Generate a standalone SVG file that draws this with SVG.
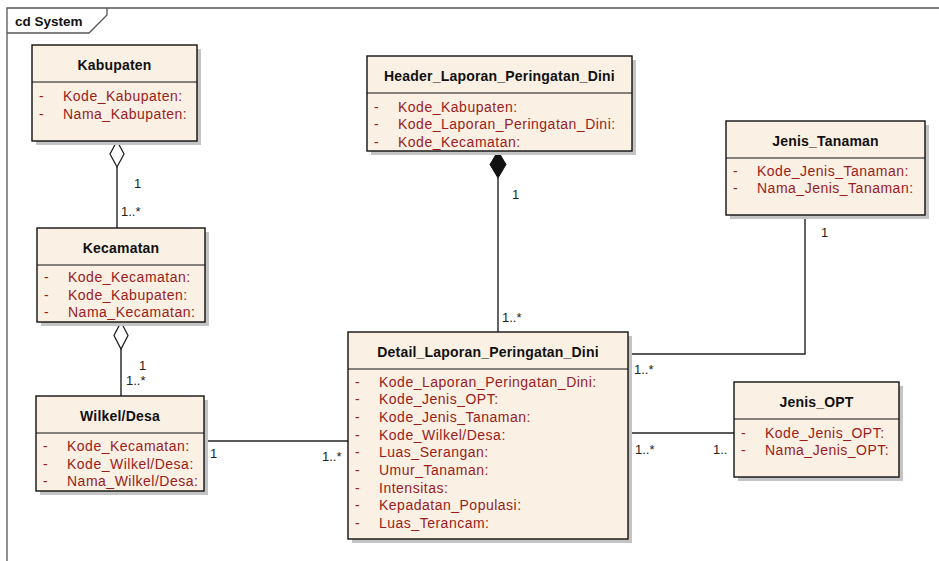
<svg xmlns="http://www.w3.org/2000/svg" width="939" height="561" viewBox="0 0 939 561">
<style>
.frame{fill:none;stroke:#555;stroke-width:1.3}
.shadow{fill:#c4c4c4}
.box{fill:#faf0e3;stroke:#111;stroke-width:1.4}
.div{stroke:#111;stroke-width:1.2}
.title{font-family:"Liberation Sans",Arial,sans-serif;font-size:14px;font-weight:bold;fill:#111;text-anchor:middle;letter-spacing:0.2px}
.attr{font-family:"Liberation Sans",Arial,sans-serif;font-size:14px;fill:#9b1c1c;letter-spacing:0.5px}
.lbl{font-family:"Liberation Sans",Arial,sans-serif;font-size:13px;fill:#222}
.conn{fill:none;stroke:#222;stroke-width:1.4}
</style>
<rect width="939" height="561" fill="#fff"/>
<g id="frame">
<path class="frame" d="M7,561 V8 H939"/>
<path class="frame" d="M7,33 H89 L107,15 V8"/>
<text x="15" y="26" style="font-family:'Liberation Sans',Arial,sans-serif;font-size:13.5px;font-weight:bold;fill:#111">cd System</text>
</g>
<g id="connectors">
<path class="conn" d="M117,167 V228"/>
<polygon points="117,141 124,154 117,167 110,154" fill="#fff" stroke="#222" stroke-width="1.3"/>
<path class="conn" d="M121,349 V396"/>
<polygon points="121,322 128,335.5 121,349 114,335.5" fill="#fff" stroke="#222" stroke-width="1.3"/>
<path class="conn" d="M498,178 V332"/>
<polygon points="498,151 506,164.5 498,178 490,164.5" fill="#111" stroke="#111" stroke-width="1"/>
<path class="conn" d="M204,441 H348"/>
<path class="conn" d="M805,215 V354 H628"/>
<path class="conn" d="M628,433 H734"/>
<text class="lbl" x="134" y="188">1</text>
<text class="lbl" x="121" y="216">1..*</text>
<text class="lbl" x="139" y="370">1</text>
<text class="lbl" x="126" y="385">1..*</text>
<text class="lbl" x="512" y="199">1</text>
<text class="lbl" x="502" y="322">1..*</text>
<text class="lbl" x="210" y="458">1</text>
<text class="lbl" x="322" y="461">1..*</text>
<text class="lbl" x="821" y="237">1</text>
<text class="lbl" x="634" y="374">1..*</text>
<text class="lbl" x="635" y="454">1..*</text>
<text class="lbl" x="713" y="454">1..</text>
</g>
<g id="Kabupaten">
<rect class="shadow" x="36" y="49" width="165" height="96"/>
<rect class="box" x="32" y="45" width="165" height="96"/>
<line class="div" x1="32" y1="82" x2="197" y2="82"/>
<text class="title" x="114.5" y="70">Kabupaten</text>
<text class="attr" x="39" y="101">-</text><text class="attr" x="63" y="101">Kode_Kabupaten:</text>
<text class="attr" x="39" y="119">-</text><text class="attr" x="63" y="119">Nama_Kabupaten:</text>
</g>
<g id="Kecamatan">
<rect class="shadow" x="41" y="232" width="168" height="94"/>
<rect class="box" x="37" y="228" width="168" height="94"/>
<line class="div" x1="37" y1="265" x2="205" y2="265"/>
<text class="title" x="121" y="253">Kecamatan</text>
<text class="attr" x="44" y="282">-</text><text class="attr" x="68" y="282">Kode_Kecamatan:</text>
<text class="attr" x="44" y="299.7">-</text><text class="attr" x="68" y="299.7">Kode_Kabupaten:</text>
<text class="attr" x="44" y="317.4">-</text><text class="attr" x="68" y="317.4">Nama_Kecamatan:</text>
</g>
<g id="WilkelDesa">
<rect class="shadow" x="40" y="400" width="168" height="95"/>
<rect class="box" x="36" y="396" width="168" height="95"/>
<line class="div" x1="36" y1="433" x2="204" y2="433"/>
<text class="title" x="120" y="421">Wilkel/Desa</text>
<text class="attr" x="43" y="451">-</text><text class="attr" x="67" y="451">Kode_Kecamatan:</text>
<text class="attr" x="43" y="468.7">-</text><text class="attr" x="67" y="468.7">Kode_Wilkel/Desa:</text>
<text class="attr" x="43" y="486.4">-</text><text class="attr" x="67" y="486.4">Nama_Wilkel/Desa:</text>
</g>
<g id="Header_Laporan_Peringatan_Dini">
<rect class="shadow" x="371" y="60" width="265" height="95"/>
<rect class="box" x="367" y="56" width="265" height="95"/>
<line class="div" x1="367" y1="93" x2="632" y2="93"/>
<text class="title" x="499.5" y="81">Header_Laporan_Peringatan_Dini</text>
<text class="attr" x="374" y="111.5">-</text><text class="attr" x="398" y="111.5">Kode_Kabupaten:</text>
<text class="attr" x="374" y="129.2">-</text><text class="attr" x="398" y="129.2">Kode_Laporan_Peringatan_Dini:</text>
<text class="attr" x="374" y="146.9">-</text><text class="attr" x="398" y="146.9">Kode_Kecamatan:</text>
</g>
<g id="Jenis_Tanaman">
<rect class="shadow" x="730" y="125" width="199" height="94"/>
<rect class="box" x="726" y="121" width="199" height="94"/>
<line class="div" x1="726" y1="158" x2="925" y2="158"/>
<text class="title" x="825.5" y="146">Jenis_Tanaman</text>
<text class="attr" x="733" y="175.5">-</text><text class="attr" x="757" y="175.5">Kode_Jenis_Tanaman:</text>
<text class="attr" x="733" y="193.2">-</text><text class="attr" x="757" y="193.2">Nama_Jenis_Tanaman:</text>
</g>
<g id="Detail_Laporan_Peringatan_Dini">
<rect class="shadow" x="352" y="336" width="280" height="207"/>
<rect class="box" x="348" y="332" width="280" height="207"/>
<line class="div" x1="348" y1="369" x2="628" y2="369"/>
<text class="title" x="488" y="357">Detail_Laporan_Peringatan_Dini</text>
<text class="attr" x="355" y="386.5">-</text><text class="attr" x="379" y="386.5">Kode_Laporan_Peringatan_Dini:</text>
<text class="attr" x="355" y="404.2">-</text><text class="attr" x="379" y="404.2">Kode_Jenis_OPT:</text>
<text class="attr" x="355" y="421.9">-</text><text class="attr" x="379" y="421.9">Kode_Jenis_Tanaman:</text>
<text class="attr" x="355" y="439.6">-</text><text class="attr" x="379" y="439.6">Kode_Wilkel/Desa:</text>
<text class="attr" x="355" y="457.3">-</text><text class="attr" x="379" y="457.3">Luas_Serangan:</text>
<text class="attr" x="355" y="475">-</text><text class="attr" x="379" y="475">Umur_Tanaman:</text>
<text class="attr" x="355" y="492.7">-</text><text class="attr" x="379" y="492.7">Intensitas:</text>
<text class="attr" x="355" y="510.4">-</text><text class="attr" x="379" y="510.4">Kepadatan_Populasi:</text>
<text class="attr" x="355" y="528.1">-</text><text class="attr" x="379" y="528.1">Luas_Terancam:</text>
</g>
<g id="Jenis_OPT">
<rect class="shadow" x="738" y="386" width="165" height="95"/>
<rect class="box" x="734" y="382" width="165" height="95"/>
<line class="div" x1="734" y1="419" x2="899" y2="419"/>
<text class="title" x="816.5" y="407">Jenis_OPT</text>
<text class="attr" x="741" y="437.5">-</text><text class="attr" x="765" y="437.5">Kode_Jenis_OPT:</text>
<text class="attr" x="741" y="455.2">-</text><text class="attr" x="765" y="455.2">Nama_Jenis_OPT:</text>
</g>
</svg>
